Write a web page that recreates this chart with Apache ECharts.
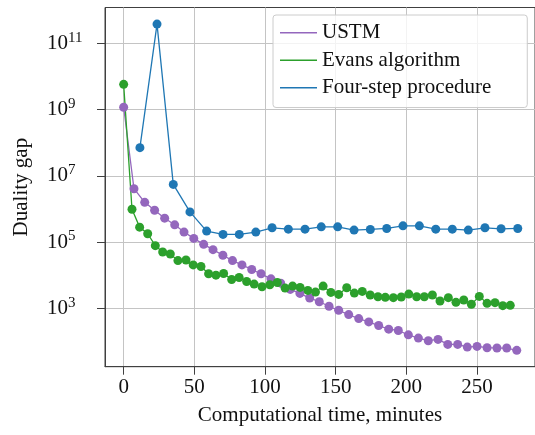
<!DOCTYPE html>
<html><head><meta charset="utf-8">
<script src="https://cdn.jsdelivr.net/npm/echarts@6/dist/echarts.min.js"></script>
<style>html,body{margin:0;padding:0;background:#fff}#c{width:535px;height:435px}</style>
</head><body><div id="c"></div>
<script>
// Data (time in minutes, duality gap)
const seriesNames = ['USTM', 'Evans algorithm', 'Four-step procedure'];

const ustmTime = [0, 7.3, 14.9, 21.9, 29.0, 36.1, 42.7, 49.6, 56.6, 63.2, 70.2, 77.0, 83.7, 90.6, 97.2, 104.2, 111.1, 117.9, 124.7, 131.6, 138.4, 145.3, 152.1, 159.2, 166.3, 173.4, 180.4, 187.5, 194.3, 201.4, 208.5, 215.5, 222.4, 229.3, 236.3, 243.1, 250.0, 257.1, 264.1, 271.0, 278.1];
const ustmGap = [1.17e9, 4.07e6, 1.58e6, 9.12e5, 5.25e5, 3.31e5, 2.00e5, 1.29e5, 8.51e4, 5.89e4, 3.98e4, 2.75e4, 2.04e4, 1.48e4, 1.10e4, 7.76e3, 5.75e3, 3.72e3, 2.82e3, 2.04e3, 1.58e3, 1.15e3, 871, 646, 490, 389, 302, 234, 214, 158, 126, 105, 115, 81.3, 81.3, 67.6, 70.8, 64.6, 63.1, 63.1, 53.7];

const evansTime = [0, 5.9, 11.3, 17.0, 22.4, 27.6, 33.0, 38.4, 44.1, 49.2, 54.7, 60.1, 65.3, 70.7, 76.4, 81.7, 87.0, 92.3, 97.9, 103.4, 108.7, 114.2, 119.5, 124.8, 130.3, 135.7, 141.1, 146.6, 152.1, 157.8, 163.2, 168.8, 174.4, 179.9, 185.1, 190.8, 196.4, 201.7, 207.3, 212.7, 218.4, 223.8, 229.7, 235.1, 240.6, 246.0, 251.6, 257.1, 262.7, 268.2, 273.5];
const evansGap = [5.75e9, 9.77e5, 2.82e5, 1.78e5, 7.76e4, 5.01e4, 4.37e4, 2.75e4, 2.88e4, 2.04e4, 1.82e4, 1.10e4, 1.00e4, 1.12e4, 7.41e3, 8.51e3, 6.46e3, 5.37e3, 4.47e3, 5.13e3, 6.03e3, 4.07e3, 4.68e3, 4.27e3, 3.47e3, 3.09e3, 4.68e3, 3.02e3, 2.63e3, 4.17e3, 2.88e3, 3.24e3, 2.51e3, 2.24e3, 2.14e3, 2.09e3, 2.19e3, 2.69e3, 2.24e3, 2.24e3, 2.51e3, 1.66e3, 2.09e3, 1.51e3, 1.78e3, 1.32e3, 2.29e3, 1.41e3, 1.48e3, 1.20e3, 1.23e3];

const fourStepTime = [11.5, 23.6, 35.1, 46.9, 58.7, 70.3, 81.8, 93.5, 105.0, 116.5, 128.3, 139.8, 151.4, 163.0, 174.5, 186.1, 197.6, 209.2, 220.8, 232.5, 243.8, 255.6, 267.0, 278.8];
const fourStepGap = [7.08e7, 3.80e11, 5.50e6, 8.13e5, 2.14e5, 1.70e5, 1.70e5, 2.00e5, 2.69e5, 2.45e5, 2.45e5, 2.88e5, 2.88e5, 2.29e5, 2.40e5, 2.57e5, 3.09e5, 3.09e5, 2.45e5, 2.45e5, 2.29e5, 2.69e5, 2.51e5, 2.57e5];

const xTicks = [0, 50, 100, 150, 200, 250];
const yTickExponents = [3, 5, 7, 9, 11];

const colors = ['#9467bd', '#2ca02c', '#1f77b4'];
const FONT = 'Liberation Serif';

function toPairs(t, v) { return t.map((x, i) => [x, Math.log10(v[i])]); }
const dataSets = [toPairs(ustmTime, ustmGap), toPairs(evansTime, evansGap), toPairs(fourStepTime, fourStepGap)];

const chart = echarts.init(document.getElementById('c'), null, {renderer: 'canvas'});
chart.setOption({
  animation: false,
  backgroundColor: '#ffffff',
  grid: {left: 105, top: 7.5, right: 0, bottom: 68.3, show: true, borderColor: '#404040', borderWidth: 1,
         backgroundColor: 'transparent', outerBoundsMode: 'none', containLabel: false},
  xAxis: {
    type: 'value', min: -13.2, max: 291,
    name: 'Computational time, minutes', nameLocation: 'middle', nameGap: 38,
    nameTextStyle: {fontFamily: FONT, fontSize: 21, color: '#111'},
    axisLine: {show: true, onZero: false, lineStyle: {color: '#404040', width: 1}},
    axisTick: {show: true, customValues: xTicks, length: 8, lineStyle: {color: '#404040', width: 1}},
    axisLabel: {customValues: xTicks, margin: 10, fontFamily: FONT, fontSize: 21, color: '#111'},
    splitLine: {show: true, lineStyle: {color: '#c4c4c4', width: 1}}
  },
  yAxis: {
    type: 'value', min: 1.237, max: 12.08,
    name: 'Duality gap', nameLocation: 'middle', nameGap: 73, nameRotate: 90,
    nameTextStyle: {fontFamily: FONT, fontSize: 21, color: '#111'},
    axisLine: {show: true, onZero: false, lineStyle: {color: '#404040', width: 1}},
    axisTick: {show: true, customValues: yTickExponents, length: 8, lineStyle: {color: '#404040', width: 1}},
    axisLabel: {
      customValues: yTickExponents, margin: 58, align: 'left',
      formatter: v => '{a|10}{b|' + v + '}',
      rich: {
        a: {fontFamily: FONT, fontSize: 21, color: '#111', lineHeight: 26},
        b: {fontFamily: FONT, fontSize: 15, color: '#111', verticalAlign: 'top', lineHeight: 13}
      }
    },
    splitLine: {show: true, lineStyle: {color: '#c4c4c4', width: 1}}
  },
  legend: {
    orient: 'vertical', left: 273, top: 15,
    data: seriesNames,
    icon: 'rect', itemWidth: 37, itemHeight: 1.5, itemGap: 0,
    padding: [4, 36, 6, 7],
    backgroundColor: 'rgba(255,255,255,0.8)', borderColor: '#cccccc', borderWidth: 1, borderRadius: 3,
    textStyle: {fontFamily: FONT, fontSize: 21, color: '#111', lineHeight: 27.5},
    selectedMode: false
  },
  series: seriesNames.map((name, i) => ({
    name, type: 'line', data: dataSets[i],
    symbol: 'circle', symbolSize: 9, showSymbol: true,
    lineStyle: {color: colors[i], width: 1.3},
    itemStyle: {color: colors[i]},
    emphasis: {disabled: true},
    clip: false
  }))
});
</script>
</body></html>
